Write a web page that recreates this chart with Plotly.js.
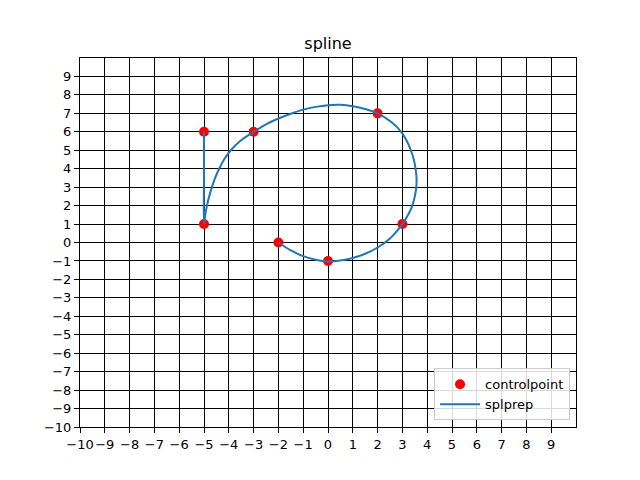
<!DOCTYPE html>
<html>
<head>
<meta charset="utf-8">
<script src="https://cdn.plot.ly/plotly-3.0.1.min.js"></script>
<style>html,body{margin:0;padding:0;background:#fff;}#chart{width:640px;height:480px;}</style>
</head>
<body>
<div id="chart"></div>
<script>
// control points
const ctrlX = [-5, -5, -3, 2, 3, 0, -2];
const ctrlY = [6, 1, 6, 7, 1, -1, 0];

// splprep curve
const curveX = [-5, -5, -5, -4.95, -4.88, -4.79, -4.68, -4.55, -4.39, -4.19, -3.92, -3.54, -2.99, -2.5, -2, -1.5, -1, -0.5, 0, 0.5, 1, 1.5, 2, 2.58, 2.95, 3.18, 3.34, 3.46, 3.53, 3.57, 3.56, 3.5, 3.4, 3.23, 3.0, 2.5, 2.0, 1.5, 1, 0.5, 0, -0.5, -1, -1.5, -2];
const curveY = [6, 3.5, 1, 1.5, 2, 2.5, 3, 3.5, 4, 4.5, 5, 5.5, 6, 6.4, 6.72, 6.98, 7.2, 7.35, 7.44, 7.46, 7.39, 7.24, 7.0, 6.5, 6, 5.5, 5, 4.5, 4, 3.5, 3, 2.5, 2, 1.5, 1.0, 0.22, -0.27, -0.61, -0.84, -0.98, -1.03, -0.94, -0.74, -0.43, 0];

const xTicks = [-10,-9,-8,-7,-6,-5,-4,-3,-2,-1,0,1,2,3,4,5,6,7,8,9];
const yTicks = [-10,-9,-8,-7,-6,-5,-4,-3,-2,-1,0,1,2,3,4,5,6,7,8,9];
const fmt = v => (v < 0 ? '\u2212' + Math.abs(v) : String(v));

const font = {family: 'DejaVu Sans, sans-serif', size: 13, color: '#000'};

const traces = [
  {x: ctrlX, y: ctrlY, mode: 'markers', name: 'controlpoint', type: 'scatter',
   marker: {color: '#ff0000', size: 10}},
  {x: curveX, y: curveY, mode: 'lines', name: 'splprep', type: 'scatter',
   line: {color: '#1f77b4', width: 2, shape: 'spline', smoothing: 1, simplify: false}}
];

const axisCommon = {
  range: [-10, 10], showgrid: true, gridcolor: '#000', gridwidth: 1,
  zeroline: false, showline: true, linecolor: '#000', linewidth: 1, mirror: true,
  ticks: 'outside', ticklen: 5, tickwidth: 1, tickcolor: '#000', tickangle: 0,
  tickfont: font, fixedrange: true, automargin: false
};

const layout = {
  width: 640, height: 480,
  margin: {l: 80, r: 64, t: 58, b: 53},
  paper_bgcolor: '#fff', plot_bgcolor: '#fff',
  font: font,
  title: {text: 'spline', font: {family: 'DejaVu Sans, sans-serif', size: 16, color: '#000'},
          x: 0.5125, xanchor: 'center', y: 0.91, yanchor: 'middle'},
  xaxis: Object.assign({}, axisCommon, {tickvals: xTicks, ticktext: xTicks.map(fmt)}),
  yaxis: Object.assign({}, axisCommon, {tickvals: yTicks, ticktext: yTicks.map(fmt)}),
  showlegend: true,
  legend: {x: 0.988, y: 0.018, xanchor: 'right', yanchor: 'bottom',
           bgcolor: 'rgba(255,255,255,0.85)', bordercolor: '#cccccc', borderwidth: 1,
           font: font, tracegroupgap: 2, itemwidth: 40}
};

Plotly.newPlot('chart', traces, layout, {displayModeBar: false, staticPlot: true});
</script>
</body>
</html>
